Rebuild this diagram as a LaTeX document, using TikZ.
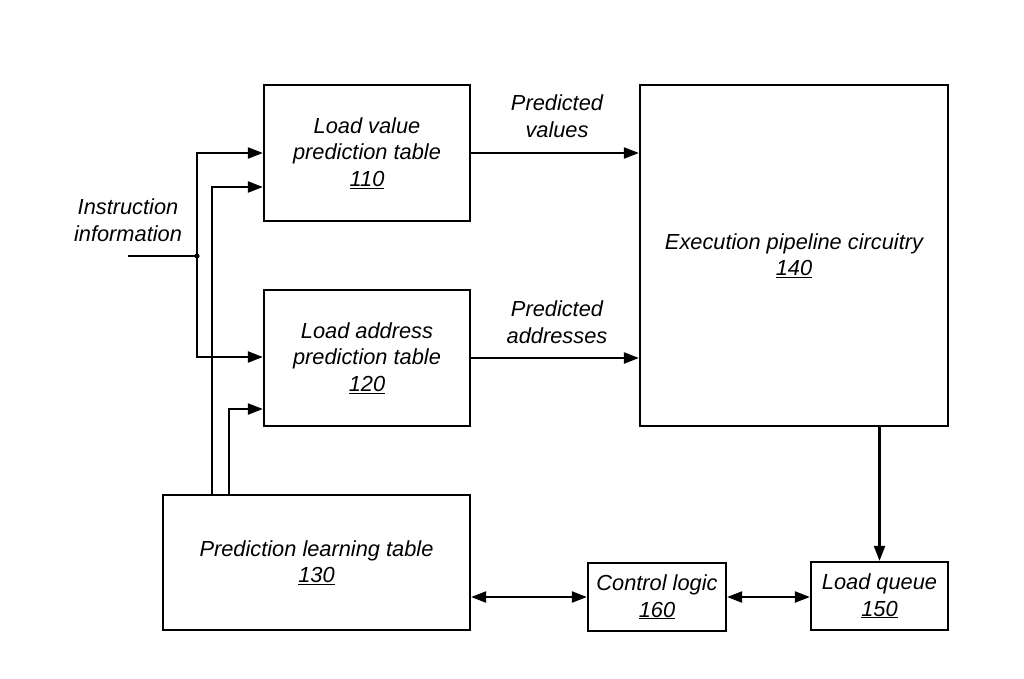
\documentclass[tikz,border=0pt]{standalone}
\usepackage{fontspec}
\setmainfont{Liberation Sans}
\usetikzlibrary{arrows.meta}
\begin{document}
\begin{tikzpicture}[x=1pt,y=-1pt,
  every node/.style={font=\fontsize{21.8}{26.5}\selectfont\itshape, align=center, inner sep=0pt},
  blk/.style={draw, line width=2.2pt, rectangle},
  conn/.style={line width=2.2pt},
  arr/.style={conn, -{Triangle[length=15pt,width=11pt]}},
  darr/.style={conn, {Triangle[length=15pt,width=11pt]}-{Triangle[length=15pt,width=11pt]}}]
  \useasboundingbox[fill=white] (0,0) rectangle (1024,678);

  % functional blocks
  \node[blk, minimum width=206pt, minimum height=136pt] (lvpt) at (367,153)
    {Load value\\prediction table\\\underline{110}};
  \node[blk, minimum width=206pt, minimum height=136pt] (lapt) at (367,358)
    {Load address\\prediction table\\\underline{120}};
  \node[blk, minimum width=308pt, minimum height=341pt] (exec) at (794,255.5)
    {Execution pipeline circuitry\\\underline{140}};
  \node[blk, minimum width=307pt, minimum height=135pt] (plt) at (316.5,562.5)
    {Prediction learning table\\\underline{130}};
  \node[blk, minimum width=138pt, minimum height=68pt] (ctl) at (657,597)
    {Control logic\\\underline{160}};
  \node[blk, minimum width=137pt, minimum height=68pt] (lq) at (879.5,596)
    {Load queue\\\underline{150}};

  % labels
  \node (instr) at (128,220) {Instruction\\information};
  \node (pv) at (557,116) {Predicted\\values};
  \node (pa) at (557,322) {Predicted\\addresses};

  % instruction information fan-out
  \coordinate (in) at (128,256);
  \coordinate (j) at (197,256);
  \draw[conn] (in) -- (j);
  \fill (j) circle (2.6pt);
  \draw[arr] (j) |- (lvpt.west);
  \draw[arr] (j) |- ([yshift=1pt]lapt.west);

  % updates from the prediction learning table
  \draw[arr] ([xshift=50pt]plt.north west) |- ([yshift=-34pt]lvpt.west);
  \draw[arr] ([xshift=67pt]plt.north west) |- ([yshift=-51pt]lapt.west);

  % predictions into the pipeline
  \draw[arr] (lvpt.east) -- (lvpt.east -| exec.west);
  \draw[arr] (lapt.east) -- (lapt.east -| exec.west);

  % pipeline to load queue
  \draw[arr] (lq.north |- exec.south) -- (lq.north);

  % control logic links
  \draw[darr] (plt.east |- ctl.west) -- (ctl.west);
  \draw[darr] (ctl.east) -- (lq.west |- ctl.east);
\end{tikzpicture}
\end{document}
